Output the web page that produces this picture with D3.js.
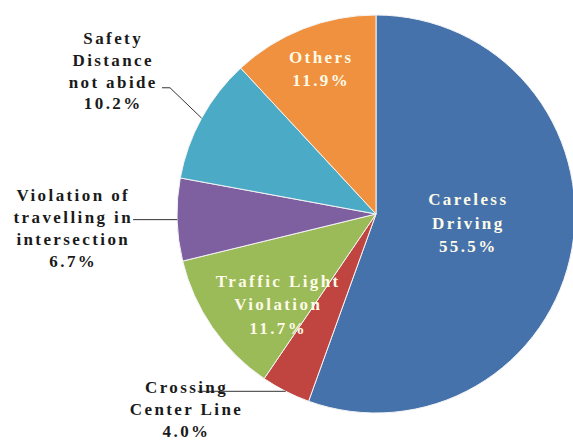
<!DOCTYPE html>
<meta charset="utf-8">
<style>
    body {
        margin: 0;
        background: #fff;
    }
</style>
<svg width="573" height="440" font-family="'Liberation Serif', 'Times New Roman', serif" font-weight="bold"></svg>
<script src="https://cdn.jsdelivr.net/npm/d3@7"></script>
<script>

    // chart data
    var categories = ["Careless Driving", "Crossing Center Line", "Traffic Light Violation",
        "Violation of travelling in intersection", "Safety Distance not abide", "Others"];
    var shares = [55.5, 4.0, 11.7, 6.7, 10.2, 11.9];
    var labelLines = [
        ["Careless", "Driving"],
        ["Crossing", "Center Line"],
        ["Traffic Light", "Violation"],
        ["Violation of", "travelling in", "intersection"],
        ["Safety", "Distance", "not abide"],
        ["Others"]
    ];
    var colors = ["#4672ab", "#c0443f", "#9bba58", "#7e5f9f", "#4babc6", "#f0913f"];

    // label placement: radius as fraction of R, angle shift in degrees from slice middle
    var place = [
        { r: 0.46, da: -4.2, inside: true },
        { r: 1.372, da: 17.3, inside: false, knee: { r: 1, da: 0, h: 88 } },
        { r: 0.674, da: -7.7, inside: true },
        { r: 1.529, da: -1.1, inside: false, knee: { r: 1, da: 0, h: 44 } },
        { r: 1.508, da: -0.4, inside: false, knee: { r: 1.214, da: 2.7, h: 8 } },
        { r: 0.781, da: 0.3, inside: true }
    ];

    var svg = d3.select("svg"),
        cx = 376,
        cy = 214,
        R = 199,
        g = svg.append("g").attr("transform", "translate(" + cx + "," + cy + ")");

    var data = categories.map(function (c, i) { return { name: c, value: shares[i], i: i }; });

    var pie = d3.pie().sort(null).value(function (d) { return d.value; });
    var arc = d3.arc().innerRadius(0).outerRadius(R);
    var arcs = pie(data);

    g.selectAll("path.slice")
        .data(arcs)
        .enter().append("path")
        .attr("class", "slice")
        .attr("d", arc)
        .attr("fill", function (d) { return colors[d.data.i]; })
        .attr("stroke", "#f4f4f4")
        .attr("stroke-width", 1);

    function polar(a, r) {
        return [r * Math.sin(a), -r * Math.cos(a)];
    }

    function mid(d) { return (d.startAngle + d.endAngle) / 2; }

    // leader lines for the outside labels
    arcs.forEach(function (d) {
        var p = place[d.data.i];
        if (p.inside) return;
        var a = mid(d);
        var e = polar(a, R);
        var k = polar(a + p.knee.da * Math.PI / 180, p.knee.r * R);
        var pts = [e, k, [k[0] - p.knee.h, k[1]]];
        g.append("path")
            .attr("d", d3.line()(pts))
            .attr("fill", "none")
            .attr("stroke", "#333")
            .attr("stroke-width", 1);
    });

    // labels
    arcs.forEach(function (d) {
        var p = place[d.data.i];
        var a = mid(d) + p.da * Math.PI / 180;
        var c = polar(a, p.r * R);
        var lines = labelLines[d.data.i].concat([d3.format(".1f")(d.data.value) + "%"]);
        var lh = p.inside ? 23.5 : 21.8;
        var y0 = c[1] - (lines.length - 1) * lh / 2 + 5.5;
        var t = g.append("text")
            .attr("text-anchor", "middle")
            .attr("font-size", 17)
            .attr("letter-spacing", 2.4)
            .attr("fill", p.inside ? "#fdfbe8" : "#1a1a1a");
        lines.forEach(function (s, j) {
            t.append("tspan")
                .attr("x", c[0] + 1.2)
                .attr("y", y0 + j * lh)
                .text(s);
        });
    });
</script>
